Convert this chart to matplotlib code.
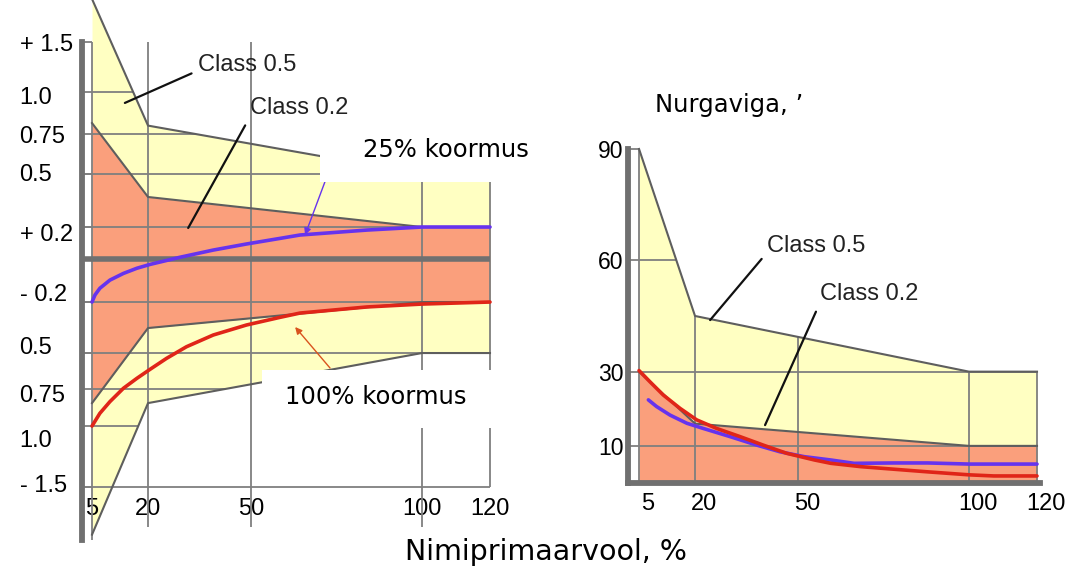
import numpy as np
import matplotlib.pyplot as plt
from matplotlib.patches import Rectangle
from matplotlib.transforms import ScaledTranslation

W, H = 1065, 572

# telgede mittelineaarne jaotus (nagu originaalpildil)
x_knots = [0, 5, 20, 50, 100, 120, 140]
x_px = [-18.7, 0, 56, 159, 330, 398, 466]
y_knots = [-2.5, -1.5, -1.0, -0.75, -0.5, -0.2, 0, 0.2, 0.5, 0.75, 1.0, 1.5, 2.5]
y_px = [-350, -228, -167, -130, -94, -43, 0, 32, 85, 125, 167, 217, 317]

x_ticks = [5, 20, 50, 100, 120]
x_labels = ['5', '20', '50', '100', '120']

# vasak: voolu viga, %
err_ticks = [-1.5, -1.0, -0.75, -0.5, -0.2, 0, 0.2, 0.5, 0.75, 1.0, 1.5]
err_labels = ['- 1.5', '1.0', '0.75', '0.5', '- 0.2', '', '+ 0.2', '0.5', '0.75', '1.0', '+ 1.5']
# siltide nihe alla, px (originaalis pole sildid joontega kohakuti)
label_nudge = [-4, 12, 4, -8, -10, 0, 5, -2, 0, 3, 0]

c05_x = [5, 20, 100, 120]
c05_hi = [1.93, 0.80, 0.5, 0.5]
c05_lo = [-1.89, -0.845, -0.5, -0.5]
c02_x = [5, 20, 100, 120]
c02_hi = [0.815, 0.37, 0.2, 0.2]
c02_lo = [-0.845, -0.353, -0.2, -0.2]

k25_x = [5, 5.8, 7.1, 9.8, 13.4, 17.0, 20.6, 29.3, 39.0, 48.7, 58.5, 64.3, 83.9, 100, 120]
k25_y = [-0.2, -0.167, -0.136, -0.098, -0.067, -0.043, -0.025, 0.011, 0.056, 0.094,
         0.129, 0.15, 0.181, 0.2, 0.2]
k100_x = [5, 7.1, 9.8, 13.4, 17.0, 20.6, 25.4, 31.2, 39.0, 48.7, 58.5, 64.3, 83.9, 100, 120]
k100_y = [-1.0, -0.914, -0.835, -0.745, -0.676, -0.613, -0.537, -0.463, -0.394, -0.335,
          -0.29, -0.265, -0.229, -0.212, -0.2]

# parem: nurgaviga, '
ph_ticks = [10, 30, 60, 90]
p05_x = [5, 20, 100, 120]
p05_hi = [90, 45, 30, 30]
p02_x = [5, 20, 100, 120]
p02_hi = [30, 16, 10, 10]

pr_x = [5, 7.9, 11.5, 16.0, 20.5, 26.3, 33.1, 39.9, 46.7, 54.8, 59.6, 68.4, 88, 100, 107.3, 120]
pr_y = [30.3, 27.3, 23.7, 20.1, 17.0, 14.7, 12.5, 10.2, 8.0, 6.2, 5.3, 4.4, 3.0, 2.2, 1.9, 1.9]
pb_x = [7.5, 9.7, 13.3, 17.8, 22.4, 30.2, 38.0, 44.8, 51.8, 59.6, 66.4, 78.1, 88, 100, 120]
pb_y = [22.4, 20.6, 18.3, 16.1, 14.7, 12.5, 10.2, 8.4, 7.1, 6.2, 5.3, 5.4, 5.4, 5.1, 5.1]

yellow = '#FFFFC2'
orange = '#FA9F7C'
edge = '#5E5E5E'
gridc = '#7F7F7F'
spinec = '#707070'
blue = '#6633EE'
red = '#E02518'


def fx(v):
    return np.interp(v, x_knots, x_px)


def ix(p):
    return np.interp(p, x_px, x_knots)


def fy(v):
    return np.interp(v, y_knots, y_px)


def iy(p):
    return np.interp(p, y_px, y_knots)


def clip_to(coll, poly):
    coll.set_clip_path(poly.get_paths()[0], poly.get_transform())


fig = plt.figure(figsize=(W / 100, H / 100), dpi=100)

# ---------- vasak graafik ----------
ax1 = fig.add_axes([82 / W, 1 - 545 / H, 411.4 / W, 545 / H])
ax1.set_xscale('function', functions=(fx, ix))
ax1.set_yscale('function', functions=(fy, iy))
ax1.set_xlim(2.32, 121)
ax1.set_ylim(-1.975, 1.92)

y5 = ax1.fill_between(c05_x, c05_lo, c05_hi, color=yellow, lw=0, zorder=1)
ax1.fill_between(c02_x, c02_lo, c02_hi, color=orange, lw=0, zorder=1.1)

ax1.hlines([-1.5, -0.5, -0.2, 0.2, 0.5], 2.32, 120, color=gridc, lw=1.3, zorder=2)
part = ax1.hlines([-1.0, -0.75, 0.75, 1.0], 2.32, 120, color=gridc, lw=1.3, zorder=2)
clip_to(part, y5)
ax1.vlines(5, -1.93, 1.5, color=gridc, lw=1.3, zorder=2)
ax1.vlines([20, 50], -1.83, 1.5, color=gridc, lw=1.3, zorder=2)
ax1.vlines(100, -1.83, 0.5, color=gridc, lw=1.3, zorder=2)
ax1.vlines(120, -1.5, 0.5, color=gridc, lw=1.3, zorder=2)

for yy in (c05_hi, c05_lo, c02_hi, c02_lo):
    ax1.plot(c05_x, yy, color=edge, lw=1.5, zorder=2.5)
ax1.hlines(0, 2.32, 120, color=spinec, lw=4, zorder=3)

ax1.plot(k25_x, k25_y, color=blue, lw=2.6, zorder=4, solid_capstyle='round')
ax1.plot(k100_x, k100_y, color=red, lw=2.6, zorder=4, solid_capstyle='round')

for s in ('top', 'right', 'bottom'):
    ax1.spines[s].set_visible(False)
ax1.spines['left'].set_color(spinec)
ax1.spines['left'].set_linewidth(4.2)
ax1.spines['left'].set_bounds(-1.93, 1.5)
ax1.spines['left'].set_zorder(3)

ax1.set_yticks(err_ticks)
ax1.set_yticklabels(err_labels, fontsize=17, fontfamily='Liberation Sans', ha='left')
ax1.tick_params(axis='y', direction='in', length=7, width=1.3, color=gridc, pad=45)
for lab, d in zip(ax1.get_yticklabels(), label_nudge):
    lab.set_transform(lab.get_transform() + ScaledTranslation(0, -d / 100, fig.dpi_scale_trans))
ax1.set_xticks(x_ticks)
ax1.set_xticklabels(x_labels, fontsize=17, fontfamily='Liberation Sans')
ax1.tick_params(axis='x', length=0, pad=-34)
ax1.patch.set_alpha(0)

ax1.annotate('Class 0.5', xy=(13.8, 0.935), xytext=(34.6, 1.27), ha='left', va='center',
             fontsize=17, fontfamily='Liberation Sans', color='#222222', zorder=6,
             arrowprops=dict(arrowstyle='-', color='#111111', lw=1.6,
                             relpos=(0, 0.25), shrinkA=3, shrinkB=0))
ax1.annotate('Class 0.2', xy=(31.7, 0.194), xytext=(49.7, 0.905), ha='left', va='center',
             fontsize=17, fontfamily='Liberation Sans', color='#222222', zorder=6,
             arrowprops=dict(arrowstyle='-', color='#111111', lw=1.6,
                             relpos=(0, 0.1), shrinkA=3, shrinkB=0))
ax1.annotate('', xy=(65.8, 0.15), xytext=(71.6, 0.455), zorder=4,
             arrowprops=dict(arrowstyle='-|>', color=blue, lw=1, mutation_scale=10,
                             shrinkA=0, shrinkB=0))
ax1.annotate('', xy=(62.9, -0.347), xytext=(73.1, -0.604), zorder=4,
             arrowprops=dict(arrowstyle='-|>', color='#D9531E', lw=1, mutation_scale=10,
                             shrinkA=0, shrinkB=0))

# ---------- parem graafik ----------
ax2 = fig.add_axes([628 / W, 1 - 483 / H, 412.4 / W, 339.6 / H])
ax2.set_xscale('function', functions=(fx, ix))
ax2.set_xlim(2.05, 121)
ax2.set_ylim(0, 91.5)

p5 = ax2.fill_between(p05_x, 0, p05_hi, color=yellow, lw=0, zorder=1)
ax2.fill_between(p02_x, 0, p02_hi, color=orange, lw=0, zorder=1.1)

g = ax2.hlines(60, 2.05, 120, color=gridc, lw=1.3, zorder=2)
clip_to(g, p5)
ax2.hlines([10, 30], 5, 120, color=gridc, lw=1.3, zorder=2)
g = ax2.vlines([20, 50, 100], 0, 90, color=gridc, lw=1.3, zorder=2)
clip_to(g, p5)
ax2.vlines(5, 0, 90, color=gridc, lw=1.3, zorder=2)
ax2.vlines(120, 0, 30, color=gridc, lw=1.3, zorder=2)
ax2.plot(p05_x, p05_hi, color=edge, lw=1.5, zorder=2.5)
ax2.plot(p02_x, p02_hi, color=edge, lw=1.5, zorder=2.5)

ax2.plot(pb_x, pb_y, color=blue, lw=2.6, zorder=4, solid_capstyle='round')
ax2.plot(pr_x, pr_y, color=red, lw=2.6, zorder=4, solid_capstyle='round')

for s in ('top', 'right'):
    ax2.spines[s].set_visible(False)
for s in ('left', 'bottom'):
    ax2.spines[s].set_color(spinec)
    ax2.spines[s].set_linewidth(4.2)
    ax2.spines[s].set_zorder(3)
ax2.spines['left'].set_bounds(0, 90)

ax2.set_yticks(ph_ticks)
ax2.set_yticklabels([str(t) for t in ph_ticks], fontsize=16.5, fontfamily='Liberation Sans')
ax2.tick_params(axis='y', direction='in', length=8, width=1.3, color=gridc, pad=3)
ax2.set_xticks(x_ticks)
ax2.set_xticklabels(x_labels, fontsize=17, fontfamily='Liberation Sans')
ax2.tick_params(axis='x', length=0, pad=7.5)
shift = ScaledTranslation(0.09, 0, fig.dpi_scale_trans)
for lab in ax2.get_xticklabels():
    lab.set_transform(lab.get_transform() + shift)
ax2.patch.set_alpha(0)

ax2.annotate('Class 0.5', xy=(24.4, 43.9), xytext=(41, 63.9), ha='left', va='center',
             fontsize=17, fontfamily='Liberation Sans', color='#222222', zorder=6,
             arrowprops=dict(arrowstyle='-', color='#111111', lw=1.6,
                             relpos=(0, 0.2), shrinkA=3, shrinkB=0))
ax2.annotate('Class 0.2', xy=(40.4, 15.6), xytext=(56.4, 50.9), ha='left', va='center',
             fontsize=17, fontfamily='Liberation Sans', color='#222222', zorder=6,
             arrowprops=dict(arrowstyle='-', color='#111111', lw=1.6,
                             relpos=(0, 0.1), shrinkA=3, shrinkB=0))

# valged sildikastid
fig.add_artist(Rectangle((320 / W, 1 - 182 / H), 220 / W, 52 / H, transform=fig.transFigure,
                         facecolor='white', edgecolor='none', zorder=5))
fig.add_artist(Rectangle((262 / W, 1 - 428 / H), 230 / W, 58 / H, transform=fig.transFigure,
                         facecolor='white', edgecolor='none', zorder=5))
fig.text(363 / W, 1 - 150 / H, '25% koormus', fontsize=17.5, va='center', ha='left', zorder=6)
fig.text(285 / W, 1 - 397 / H, '100% koormus', fontsize=17.5, va='center', ha='left', zorder=6)

fig.text(405 / W, 1 - 552 / H, 'Nimiprimaarvool, %', fontsize=20.5, va='center', ha='left')
fig.text(655 / W, 1 - 105 / H, 'Nurgaviga, \u2019', fontsize=17.5, va='center', ha='left')

fig.savefig('out.png', dpi=100)
